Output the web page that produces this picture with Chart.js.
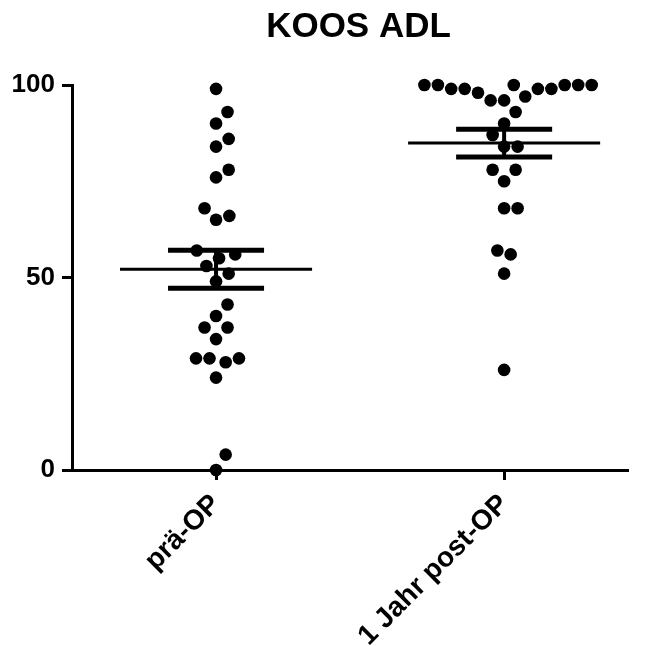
<!DOCTYPE html>
<html>
<head>
<meta charset="utf-8">
<script src="https://cdn.jsdelivr.net/npm/chart.js@4.4.1/dist/chart.umd.min.js"></script>
<style>
  html, body { margin: 0; padding: 0; background: #fff; }
  #wrap { width: 645px; height: 646px; }
</style>
</head>
<body>
<div id="wrap"><canvas id="chart" width="645" height="646"></canvas></div>
<script>
const chartTitle = 'KOOS ADL';
const categories = ['prä-OP', '1 Jahr post-OP'];
const preOp = [99, 93, 90, 86, 84, 78, 76, 68, 66, 65, 57, 55, 56, 53, 51, 49, 43, 40, 37, 37, 34, 29, 28, 29, 29, 24, 4, 0];
const postOp = [100, 100, 100, 100, 100, 100, 99, 99, 99, 99, 98, 97, 96, 96,
  93, 90, 87, 84, 84, 78, 78, 75, 68, 68, 57, 56, 51, 26];
const yTicks = [0, 50, 100];

const groups = [preOp, postOp];
const font = "'Liberation Sans', Arial, sans-serif";
const ink = '#000';

function mean(a) { return a.reduce((s, v) => s + v, 0) / a.length; }
function sem(a) {
  const m = mean(a);
  const sd = Math.sqrt(a.reduce((s, v) => s + (v - m) * (v - m), 0) / (a.length - 1));
  return sd / Math.sqrt(a.length);
}

function lineSet(points, width) {
  return { type: 'line', data: points, borderColor: ink, borderWidth: width, pointRadius: 0, clip: false, order: 0 };
}

const datasets = [];
groups.forEach((vals, i) => {
  datasets.push({
    type: 'scatter', data: vals.map(v => ({ x: i, y: v })),
    backgroundColor: ink, borderWidth: 0, pointRadius: 6.3, clip: false, order: 1,
  });
});
groups.forEach((vals, i) => {
  const m = mean(vals), e = sem(vals);
  datasets.push(lineSet([{ x: i - 1 / 3, y: m }, { x: i + 1 / 3, y: m }], 3));
  datasets.push(lineSet([{ x: i - 1 / 6, y: m + e }, { x: i + 1 / 6, y: m + e }], 5));
  datasets.push(lineSet([{ x: i - 1 / 6, y: m - e }, { x: i + 1 / 6, y: m - e }], 5));
  datasets.push(lineSet([{ x: i, y: m - e }, { x: i, y: m + e }], 4));
});

// title centred over the plot side of the canvas
const titlePlugin = {
  id: 'plotTitle',
  afterDraw(c) {
    const ctx = c.ctx;
    ctx.save();
    ctx.fillStyle = ink;
    ctx.font = `bold 35px ${font}`;
    ctx.textAlign = 'center';
    ctx.textBaseline = 'middle';
    ctx.fillText(chartTitle, (c.chartArea.left + c.width) / 2, 27);
    ctx.restore();
  },
};

const axisGrid = { display: true, drawOnChartArea: false, drawTicks: true, tickLength: 10, tickWidth: 3, tickColor: ink };
const axisBorder = { display: true, width: 3, color: ink };

const chart = new Chart(document.getElementById('chart'), {
  data: { datasets },
  plugins: [titlePlugin],
  options: {
    responsive: false,
    animation: false,
    layout: { padding: { top: 85, right: 17 } },
    plugins: { legend: { display: false }, tooltip: { enabled: false } },
    scales: {
      x: {
        type: 'linear', min: -0.5, max: 1.43,
        grid: axisGrid, border: axisBorder,
        afterBuildTicks: s => { s.ticks = categories.map((c, i) => ({ value: i })); },
        afterFit: s => { s.height = 176; },
        ticks: {
          color: ink, font: { family: font, size: 28, weight: 'bold' }, padding: 8,
          minRotation: 45, maxRotation: 45, autoSkip: false,
          callback: (v, i) => categories[i],
        },
      },
      y: {
        min: 0, max: 100,
        grid: axisGrid, border: axisBorder,
        afterBuildTicks: s => { s.ticks = yTicks.map(v => ({ value: v })); },
        afterFit: s => { s.width = 72; },
        ticks: { color: ink, font: { family: font, size: 26, weight: 'bold' }, padding: 7 },
      },
    },
  },
});

// spread the dots sideways (beeswarm) using the chart's own scales
function swarm(values, center, wx, wy) {
  const xs = chart.scales.x, ys = chart.scales.y;
  const cx = xs.getPixelForValue(center);
  const order = values.map((v, i) => i).sort((a, b) => values[a] - values[b]);
  const placed = [];
  const out = new Array(values.length);
  const clash = (p, x, y) => ((p.x - x) / wx) ** 2 + ((p.y - y) / wy) ** 2 < 0.999;
  order.forEach(i => {
    const py = ys.getPixelForValue(values[i]);
    const near = placed.filter(p => Math.abs(p.y - py) < wy);
    const cands = [0];
    near.forEach(p => {
      const dx = wx * Math.sqrt(1 - ((p.y - py) / wy) ** 2);
      cands.push(p.x + dx, p.x - dx);
    });
    cands.sort((a, b) => Math.abs(a) - Math.abs(b));
    const x = cands.find(c => !near.some(p => clash(p, c, py)));
    placed.push({ x, y: py });
    out[i] = xs.getValueForPixel(cx + x);
  });
  return out;
}

groups.forEach((vals, i) => {
  const xs = swarm(vals, i, 13.5, 22);
  chart.data.datasets[i].data.forEach((p, k) => { p.x = xs[k]; });
});
chart.update('none');
</script>
</body>
</html>
